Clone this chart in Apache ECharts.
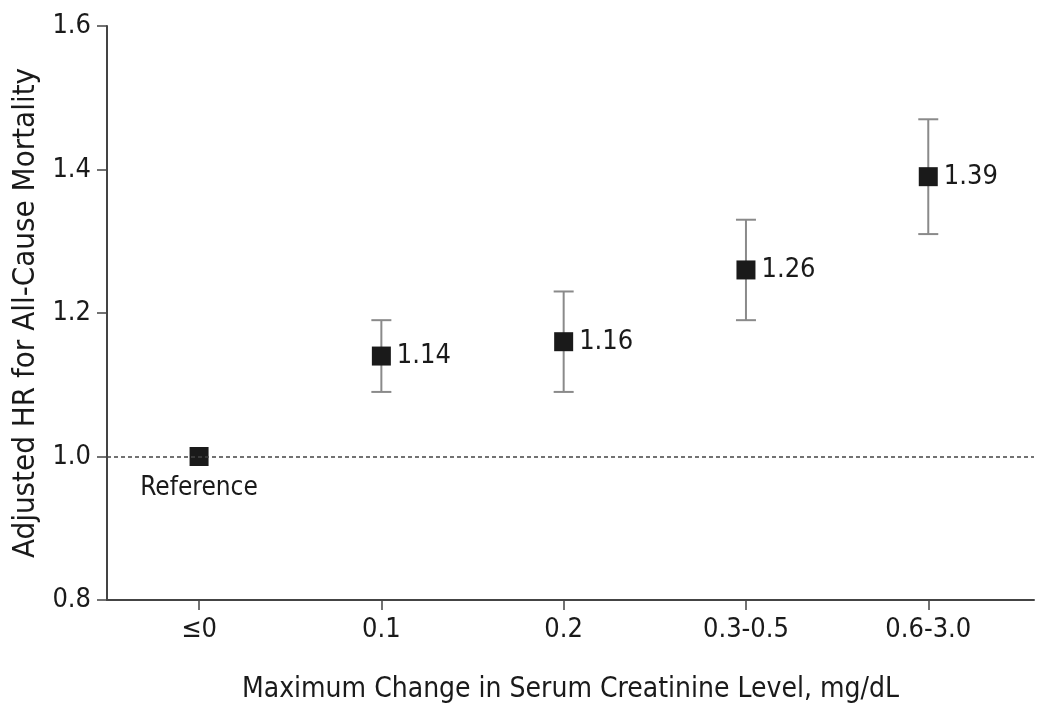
<!DOCTYPE html>
<html><head><meta charset="utf-8">
<script src="https://cdn.jsdelivr.net/npm/echarts@6/dist/echarts.min.js"></script>
<style>html,body{margin:0;padding:0;background:#fff}#c{width:1050px;height:706px}</style>
</head><body><div id="c"></div>
<script>
var categories = ['≤0', '0.1', '0.2', '0.3-0.5', '0.6-3.0'];
var hrValues = [1.00, 1.14, 1.16, 1.26, 1.39];
var ciLower = [null, 1.09, 1.09, 1.19, 1.31];
var ciUpper = [null, 1.19, 1.23, 1.33, 1.47];
var pointLabels = ['Reference', '1.14', '1.16', '1.26', '1.39'];
var yTicks = [0.8, 1.0, 1.2, 1.4, 1.6];

var FONT = "'DejaVu Sans Condensed', 'Liberation Sans', sans-serif";
var chart = echarts.init(document.getElementById('c'));
var idx = categories.map(function (c, i) { return i; });
chart.setOption({
  animation: false,
  grid: { left: 107, right: 16, top: 26, bottom: 106, outerBoundsMode: 'none', containLabel: false },
  xAxis: {
    type: 'value', min: -0.505, max: 4.58,
    name: 'Maximum Change in Serum Creatinine Level, mg/dL',
    nameLocation: 'middle', nameGap: 76,
    nameTextStyle: { fontFamily: FONT, fontSize: 28, color: '#1a1a1a' },
    axisLine: { show: true, onZero: false, lineStyle: { color: '#444', width: 2 } },
    axisTick: { show: true, inside: false, length: 10, customValues: idx, lineStyle: { color: '#444', width: 1.5 } },
    axisLabel: { customValues: idx, margin: 16, fontFamily: FONT, fontSize: 27, color: '#1a1a1a',
      formatter: function (v) { return categories[Math.round(v)]; } },
    splitLine: { show: false }
  },
  yAxis: {
    type: 'value', min: 0.8, max: 1.6, interval: 0.2,
    name: 'Adjusted HR for All-Cause Mortality',
    nameLocation: 'middle', nameGap: 64,
    nameTextStyle: { fontFamily: FONT, fontSize: 31, color: '#1a1a1a' },
    axisLine: { show: true, onZero: false, lineStyle: { color: '#444', width: 2 } },
    axisTick: { show: true, inside: false, length: 10, lineStyle: { color: '#444', width: 1.5 } },
    axisLabel: { margin: 16, fontFamily: FONT, fontSize: 27, color: '#1a1a1a',
      formatter: function (v) { return v.toFixed(1); } },
    splitLine: { show: false }
  },
  series: [
    {
      type: 'custom',
      renderItem: function (params, api) {
        var i = api.value(0), lo = api.value(1), hi = api.value(2);
        if (isNaN(lo) || isNaN(hi)) return;
        var pHi = api.coord([i, hi]), pLo = api.coord([i, lo]);
        var hw = 10;
        var st = { stroke: '#8a8a8a', lineWidth: 2 };
        return { type: 'group', children: [
          { type: 'line', shape: { x1: pHi[0], y1: pHi[1], x2: pLo[0], y2: pLo[1] }, style: st },
          { type: 'line', shape: { x1: pHi[0] - hw, y1: pHi[1], x2: pHi[0] + hw, y2: pHi[1] }, style: st },
          { type: 'line', shape: { x1: pLo[0] - hw, y1: pLo[1], x2: pLo[0] + hw, y2: pLo[1] }, style: st }
        ] };
      },
      data: idx.map(function (i) { return [i, ciLower[i], ciUpper[i]]; }),
      z: 2
    },
    {
      type: 'scatter',
      symbol: 'rect', symbolSize: 19,
      itemStyle: { color: '#1a1a1a', opacity: 1 },
      data: idx.map(function (i) { return [i, hrValues[i]]; }),
      label: {
        show: true, fontFamily: FONT, fontSize: 27, color: '#1a1a1a',
        formatter: function (p) { return pointLabels[p.dataIndex]; },
        position: 'right', distance: 6
      },
      labelLayout: function (p) {
        if (p.dataIndex === 0) {
          return { x: p.rect.x + p.rect.width / 2, y: p.rect.y + p.rect.height + 22, align: 'center', verticalAlign: 'middle', fontSize: 26 };
        }
        return {};
      },
      markLine: {
        silent: true, symbol: 'none', label: { show: false },
        lineStyle: { type: [4, 3], color: '#444', width: 1.5 },
        data: [{ yAxis: 1.0 }]
      },
      z: 3
    }
  ]
});
</script></body></html>
